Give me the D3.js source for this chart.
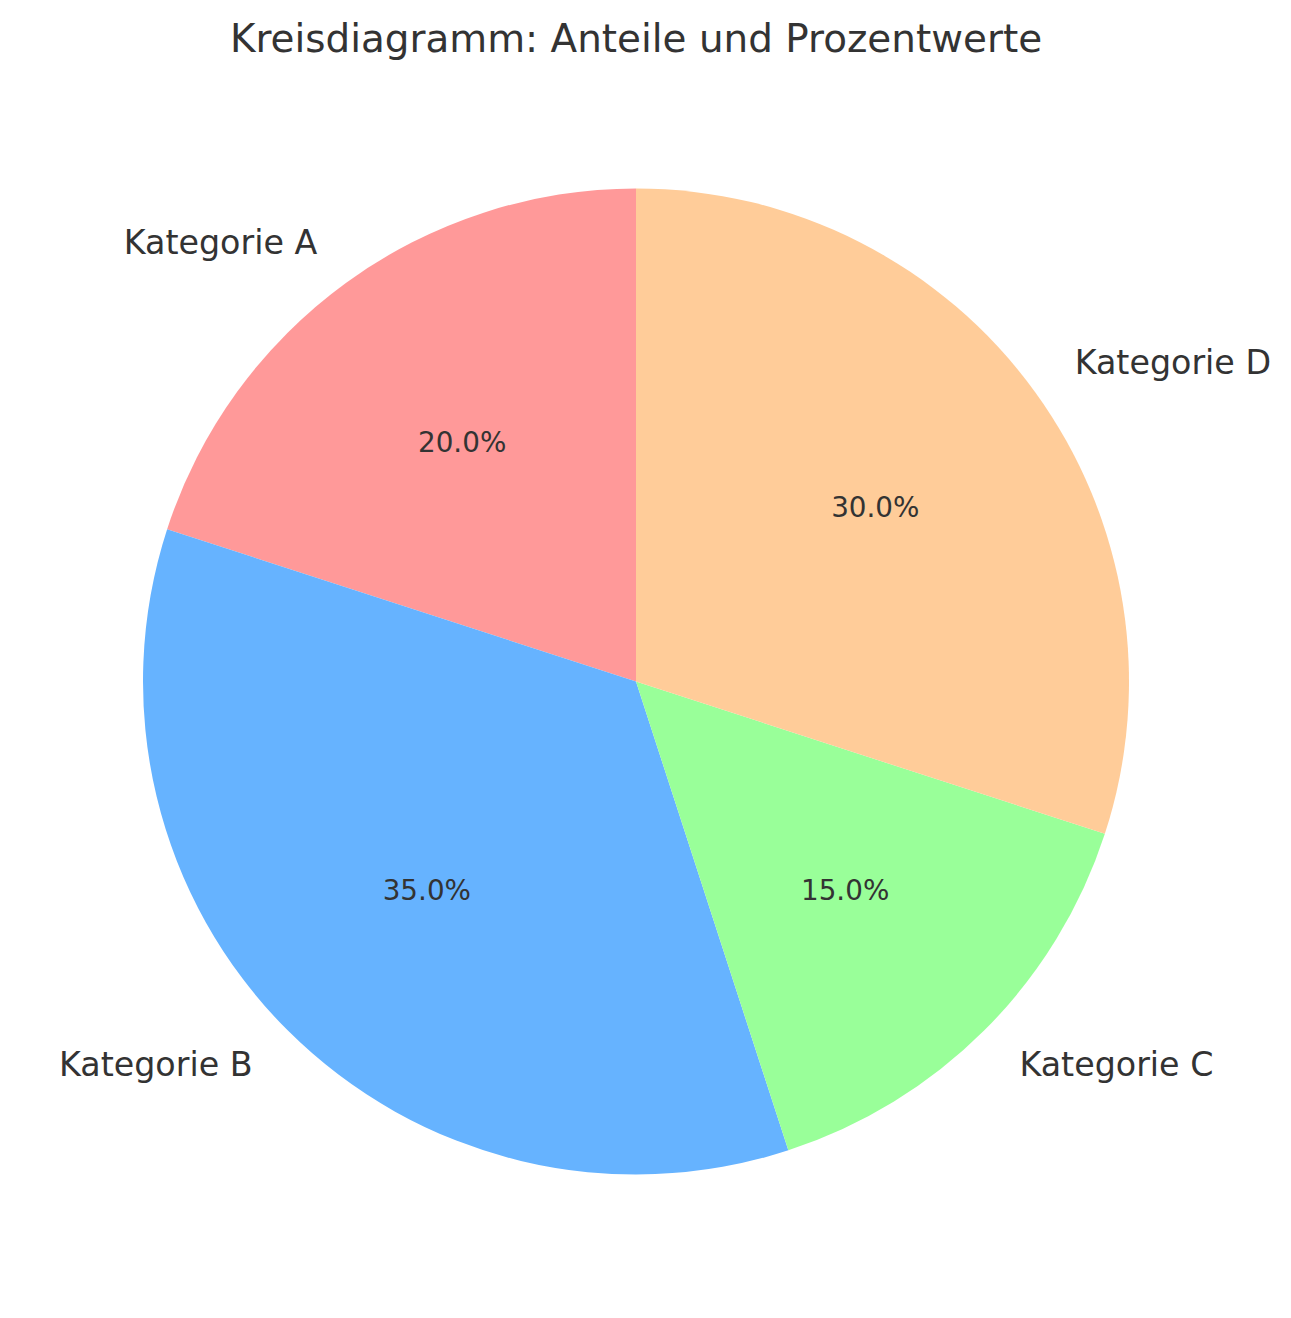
<!DOCTYPE html>
<html>
<head>
<meta charset="utf-8">
<script src="https://cdn.jsdelivr.net/npm/d3@7"></script>
<style>
  body { margin: 0; background: #fff; }
  text { font-family: "DejaVu Sans", sans-serif; fill: #333333; }
</style>
</head>
<body>
<div id="chart"></div>
<script>
// Data
const categories = ["Kategorie A", "Kategorie B", "Kategorie C", "Kategorie D"];
const shares = [20, 35, 15, 30];
const colors = ["#ff9999", "#66b3ff", "#99ff99", "#ffcc99"];
const title = "Kreisdiagramm: Anteile und Prozentwerte";

const width = 1291, height = 1318;
const cx = 636, cy = 681.5, radius = 493;

const svg = d3.select("#chart")
  .append("svg")
  .attr("width", width)
  .attr("height", height);

svg.append("text")
  .attr("x", cx)
  .attr("y", 38)
  .attr("text-anchor", "middle")
  .attr("dominant-baseline", "central")
  .attr("font-size", 38.9)
  .text(title);

const g = svg.append("g")
  .attr("transform", `translate(${cx},${cy})`);

// counterclockwise from 12 o'clock, like matplotlib startangle=90
const pie = d3.pie()
  .sort(null)
  .value(d => d)
  .startAngle(0)
  .endAngle(-2 * Math.PI);

const arcs = pie(shares);
const arc = d3.arc().innerRadius(0).outerRadius(radius);
const total = d3.sum(shares);

g.selectAll("path.slice")
  .data(arcs)
  .enter().append("path")
  .attr("class", "slice")
  .attr("d", arc)
  .attr("fill", (d, i) => colors[i]);

const mid = d => (d.startAngle + d.endAngle) / 2;

// category labels at 1.1 r
g.selectAll("text.label")
  .data(arcs)
  .enter().append("text")
  .attr("class", "label")
  .attr("x", d => Math.sin(mid(d)) * radius * 1.1)
  .attr("y", d => -Math.cos(mid(d)) * radius * 1.1)
  .attr("text-anchor", d => Math.sin(mid(d)) > 0 ? "start" : "end")
  .attr("dominant-baseline", "central")
  .attr("font-size", 33.3)
  .text((d, i) => categories[i]);

// percent labels at 0.6 r
g.selectAll("text.pct")
  .data(arcs)
  .enter().append("text")
  .attr("class", "pct")
  .attr("x", d => Math.sin(mid(d)) * radius * 0.6)
  .attr("y", d => -Math.cos(mid(d)) * radius * 0.6)
  .attr("text-anchor", "middle")
  .attr("dominant-baseline", "central")
  .attr("font-size", 27.8)
  .text(d => (d.value / total * 100).toFixed(1) + "%");
</script>
</body>
</html>
